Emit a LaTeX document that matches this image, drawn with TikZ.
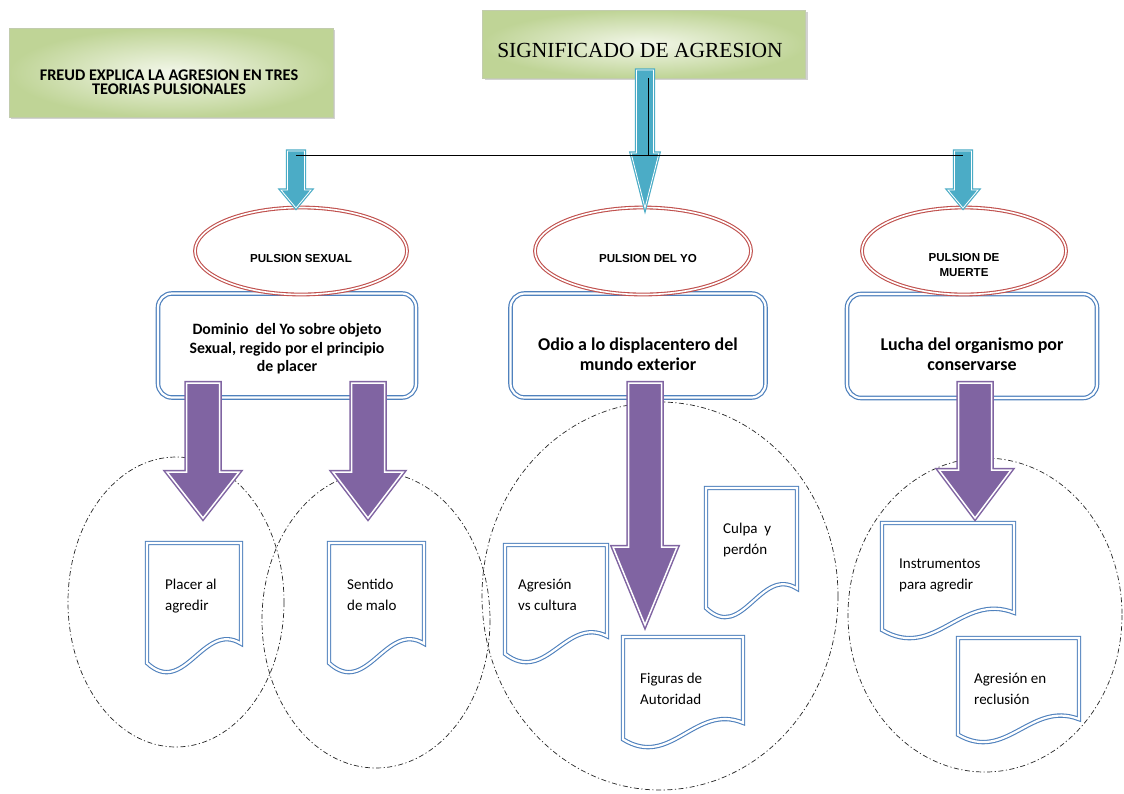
\documentclass[tikz,border=0pt]{standalone}
\usepackage{fontspec}
\setmainfont{Carlito}
\newfontfamily\arialf{Liberation Sans}
\newfontfamily\sigfont{Liberation Serif}
\usetikzlibrary{shapes.geometric,shadows,calc}
\definecolor{aquac}{HTML}{4BACC6}
\definecolor{violc}{HTML}{8064A2}
\definecolor{redc}{HTML}{C0504D}
\definecolor{bluec}{HTML}{4F81BD}
\definecolor{grnout}{HTML}{BFD496}
\definecolor{grnin}{HTML}{F3F7EA}

\newcommand\bkarrow[7]{%
  \pgfmathsetmacro\bkxa{#2-#6/2}\pgfmathsetmacro\bkxb{#2+#6/2}%
  \pgfmathsetmacro\bkxc{#2-#7/2}\pgfmathsetmacro\bkxd{#2+#7/2}%
  \draw[#1] (\bkxa,#3) -- (\bkxb,#3) -- (\bkxb,#4) -- (\bkxd,#4) -- (#2,#5) -- (\bkxc,#4) -- (\bkxa,#4) -- cycle;}

\newcommand\docsh[4]{%
  \pgfmathsetmacro\dcw{#3-#1}\pgfmathsetmacro\dch{#4-#2}%
  \pgfmathsetmacro\dcyl{#2+0.93*\dch}\pgfmathsetmacro\dcyr{#2+0.78*\dch}%
  \pgfmathsetmacro\dcxa{#1+0.4*\dcw}\pgfmathsetmacro\dcxb{#1+0.6*\dcw}%
  \pgfmathsetmacro\dcya{#2+1.2*\dch}\pgfmathsetmacro\dcyb{#2+0.6*\dch}%
  \draw[docstyle] (#1,#2) -- (#3,#2) -- (#3,\dcyr) .. controls (\dcxb,\dcyb) and (\dcxa,\dcya) .. (#1,\dcyl) -- cycle;}

\tikzset{
  greenbox/.style={rectangle, draw=grnout!80!black!60, line width=0.4pt,
     inner color=grnin, outer color=grnout,
     drop shadow={shadow xshift=2pt, shadow yshift=-2pt, opacity=0.35}},
  ellnode/.style={ellipse, draw=redc, double=white, double distance=1.6pt, line width=1.1pt, fill=white},
  ellt/.style={font=\arialf\bfseries\fontsize{11.6}{14.5}\selectfont, align=center, inner sep=0pt},
  roundbox/.style={rectangle, rounded corners=14pt, draw=bluec, double=white, double distance=2.2pt, line width=1.2pt, fill=white},
  boxt/.style={font=\bfseries\fontsize{15.8}{18.5}\selectfont, align=center, inner sep=0pt},
  boxtb/.style={font=\bfseries\fontsize{18}{20.5}\selectfont, align=center, inner sep=0pt},
  docstyle/.style={draw=bluec, double=white, double distance=2.2pt, line width=1.1pt, fill=white},
  doct/.style={font=\fontsize{15}{20.5}\selectfont, align=left, inner sep=0pt, anchor=north west},
  purparrow/.style={fill=violc, draw=violc, double=white, double distance=1.5pt, line width=1.5pt},
  bluearrow/.style={fill=aquac, draw=aquac, double=white, double distance=0.8pt, line width=1.2pt},
  dashcirc/.style={draw=black!85, line width=0.7pt, dash pattern=on 5pt off 2.5pt on 1.2pt off 2.5pt},
  conn/.style={draw=black, line width=0.9pt}
}

\begin{document}
\begin{tikzpicture}[x=1pt,y=-1pt]
\useasboundingbox (0,0) rectangle (1124,793);
\fill[white] (0,0) rectangle (1124,793);

% green title boxes
\node[greenbox, minimum width=324pt, minimum height=89pt] (freud) at (171,72.5) {};
\node[font=\bfseries\fontsize{16.3}{14.5}\selectfont, align=center, inner sep=0pt] (freudt) at (169,82)
  {FREUD EXPLICA LA AGRESION EN TRES\\TEORIAS PULSIONALES};
\node[greenbox, minimum width=323pt, minimum height=68pt] (sig) at (644,44) {};
\node[font=\sigfont\fontsize{21.5}{24}\selectfont, inner sep=0pt] (sigt) at (640,50) {SIGNIFICADO DE AGRESION};

% dash-dot circles
\draw[dashcirc] (176,602) ellipse [x radius=108, y radius=145];
\draw[dashcirc] (376,620) ellipse [x radius=114, y radius=148];
\draw[dashcirc] (660,596) ellipse [x radius=178, y radius=194];
\draw[dashcirc] (985,615) ellipse [x radius=137, y radius=157];

% documents
\docsh{147}{543}{241}{672}
\node[doct] (d1) at (165,579) {Placer al\\agredir};
\docsh{329}{543}{424}{672}
\node[doct] (d2) at (347,579) {Sentido\\de malo};
\docsh{505}{545}{607}{662}
\node[doct] (d3) at (518,579) {Agresión\\vs cultura};
\docsh{706}{488}{797}{617}
\node[doct] (d4) at (723,523) {Culpa\ \ y\\perdón};
\docsh{623}{637}{743}{747}
\node[doct] (d5) at (640,673) {Figuras de\\Autoridad};
\docsh{882}{523}{1014}{638}
\node[doct] (d6) at (899,559) {Instrumentos\\para agredir};
\docsh{958}{638}{1079}{742}
\node[doct] (d7) at (974,673) {Agresión en\\reclusión};

% rounded boxes
\node[roundbox, minimum width=258pt, minimum height=104pt] (b1) at (287,345.5) {};
\node[boxt] (b1t) at (287,349) {Dominio\ \ del Yo sobre objeto\\Sexual, regido por el principio\\de placer};
\node[roundbox, minimum width=255pt, minimum height=104pt] (b2) at (638,345.5) {};
\node[boxtb] (b2t) at (638,354) {Odio a lo displacentero del\\mundo exterior};
\node[roundbox, minimum width=250pt, minimum height=104pt] (b3) at (972,346) {};
\node[boxtb] (b3t) at (972,354) {Lucha del organismo por\\conservarse};

% ellipses
\node[ellnode, minimum width=212pt, minimum height=87pt] (e1) at (301,251) {};
\node[ellt] (e1t) at (301,258) {PULSION SEXUAL};
\node[ellnode, minimum width=216pt, minimum height=87pt] (e2) at (643,251) {};
\node[ellt] (e2t) at (648,258) {PULSION DEL YO};
\node[ellnode, minimum width=204pt, minimum height=87pt] (e3) at (964,251) {};
\node[ellt] (e3t) at (964,265) {PULSION DE\\MUERTE};

% purple block arrows
\bkarrow{purparrow}{203}{383}{472}{518}{33}{72}
\bkarrow{purparrow}{368}{383}{472}{518}{33}{70}
\bkarrow{purparrow}{645}{383}{547}{625}{33}{64}
\bkarrow{purparrow}{975}{383}{470}{518}{33}{72}

% blue block arrows
\bkarrow{bluearrow}{645}{70}{153}{208}{17}{28}
\bkarrow{bluearrow}{296}{151}{190}{208}{17}{30}
\bkarrow{bluearrow}{963}{151}{190}{208}{17}{30}

% connector lines
\coordinate (jl) at (296,155);
\coordinate (jc) at (648,155);
\coordinate (jr) at (963,155);
\coordinate (sigb) at (648,78);
\draw[conn] (sigb) -- (jc);
\draw[conn] (jl) -- (jr);
\end{tikzpicture}
\end{document}
